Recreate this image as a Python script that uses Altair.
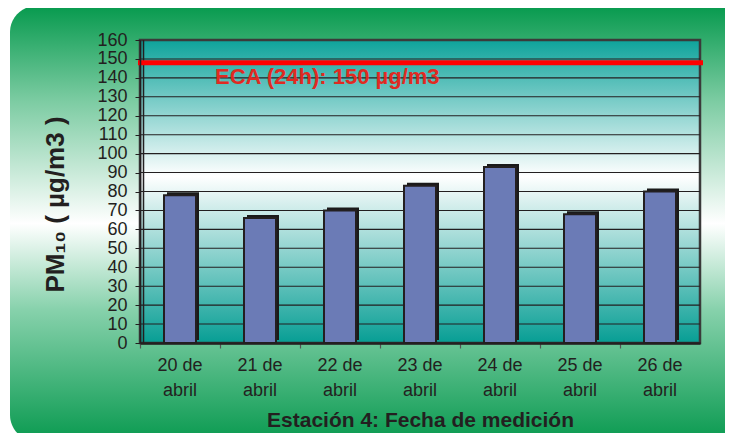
import altair as alt
import pandas as pd

# ---- data ----
dates = ["20 de abril", "21 de abril", "22 de abril", "23 de abril",
         "24 de abril", "25 de abril", "26 de abril"]
pm10 = [78, 66, 70, 83, 93, 68, 80]
eca_value = [148]
eca_label = ["ECA (24h): 150 µg/m3"]
grid_values = [10, 20, 30, 40, 50, 60, 70, 80, 90, 100, 110, 120, 130, 140, 150]
y_ticks = [0, 10, 20, 30, 40, 50, 60, 70, 80, 90, 100, 110, 120, 130, 140, 150, 160]

W, H = 560, 303
FONT = "Liberation Sans"
INK = "#231f20"

bars_df = pd.DataFrame({"fecha": dates, "pm10": pm10})
grid_df = pd.DataFrame({"pm10": grid_values})
eca_df = pd.DataFrame({"pm10": eca_value, "label": eca_label})
one = pd.DataFrame({"a": [0]})

yscale = alt.Scale(domain=[0, 160], nice=False, zero=True)
xscale = alt.Scale(domain=dates, paddingInner=0, paddingOuter=0)

green_bg = alt.LinearGradient(
    gradient="linear", x1=0, x2=0, y1=0, y2=1,
    stops=[alt.GradientStop(color="#079a4e", offset=0),
           alt.GradientStop(color="#7dcca3", offset=0.22),
           alt.GradientStop(color="#ffffff", offset=0.5),
           alt.GradientStop(color="#86d1ab", offset=0.7),
           alt.GradientStop(color="#0a9a50", offset=1)])

plot_bg = alt.LinearGradient(
    gradient="linear", x1=0, x2=0, y1=0, y2=1,
    stops=[alt.GradientStop(color="#0ea39b", offset=0),
           alt.GradientStop(color="#ffffff", offset=0.45),
           alt.GradientStop(color="#079e94", offset=1)])

x_axis = alt.Axis(
    bandPosition=0, labelAngle=0,
    labelExpr="[substring(datum.label, 0, 5), substring(datum.label, 6)]",
    labelFont=FONT, labelFontSize=18, labelColor=INK, labelLineHeight=25,
    labelBaseline="alphabetic", labelPadding=22, labelOverlap=False,
    ticks=True, tickSize=5, tickColor="#555555", tickWidth=1.2,
    domain=True, domainColor=INK, domainWidth=2.5,
    grid=False, zindex=1,
    title="Estación 4: Fecha de medición", titleFont=FONT, titleFontSize=21,
    titleFontWeight="bold", titleColor=INK, titleX=W / 2, titleY=87,
    titleAlign="center", titleBaseline="bottom")

y_axis = alt.Axis(
    values=y_ticks, grid=False, zindex=1,
    domain=True, domainColor=INK, domainWidth=1.5,
    ticks=True, tickSize=5, tickColor=INK,
    labelFont=FONT, labelFontSize=18, labelColor=INK, labelPadding=8,
    labelOverlap=False, labelFlush=False,
    title="PM₁₀ ( µg/m3 )", titleFont=FONT, titleFontSize=26,
    titleFontWeight="bold", titleColor=INK, titleAngle=270,
    titleX=-77, titleY=164, titleAlign="center", titleBaseline="alphabetic")

Y = alt.Y("pm10:Q", scale=yscale, axis=y_axis)
X = alt.X("fecha:N", scale=xscale, sort=dates, axis=x_axis)

bg = alt.Chart(one).mark_rect(fill=green_bg, cornerRadius=26).encode(
    x=alt.value(-130), x2=alt.value(W + 60),
    y=alt.value(-34), y2=alt.value(H + 98))

plot_rect = alt.Chart(one).mark_rect(fill=plot_bg, stroke="#3a3a3a", strokeWidth=2.5).encode(
    x=alt.value(0), x2=alt.value(W), y=alt.value(0), y2=alt.value(H))

grid = alt.Chart(grid_df).mark_rule(color=INK, strokeWidth=1.1).encode(
    y=Y, x=alt.value(0), x2=alt.value(W))

inner_left = alt.Chart(one).mark_rule(color=INK, strokeWidth=1.5).encode(
    x=alt.value(3.5), y=alt.value(0), y2=alt.value(H))

base = alt.Chart(bars_df)

shadow = base.mark_bar(width=32, color="#1a1a1a", xOffset=3, yOffset=-3).encode(x=X, y=Y)

bars = base.mark_bar(width=32, fill="#6b7bb6", stroke=INK, strokeWidth=2).encode(x=X, y=Y)

eca_rule = alt.Chart(eca_df).mark_rule(color="#ff0000", strokeWidth=5).encode(
    y=Y, x=alt.value(-2), x2=alt.value(W + 3))

eca_text = alt.Chart(eca_df).mark_text(
    align="left", baseline="alphabetic", dy=21, font=FONT, fontSize=22,
    fontWeight="bold", color="#e02a22").encode(
    y=Y, x=alt.value(75), text="label:N")

chart = alt.layer(bg, plot_rect, grid, inner_left, shadow, bars, eca_rule, eca_text).properties(
    width=W, height=H,
    padding={"left": 132, "top": 32, "right": 25, "bottom": 90},
    autosize=alt.AutoSizeParams(type="none"),
    background="white",
).configure_view(strokeWidth=0)

chart.save("out.html", embed_options={"renderer": "svg", "actions": False})
